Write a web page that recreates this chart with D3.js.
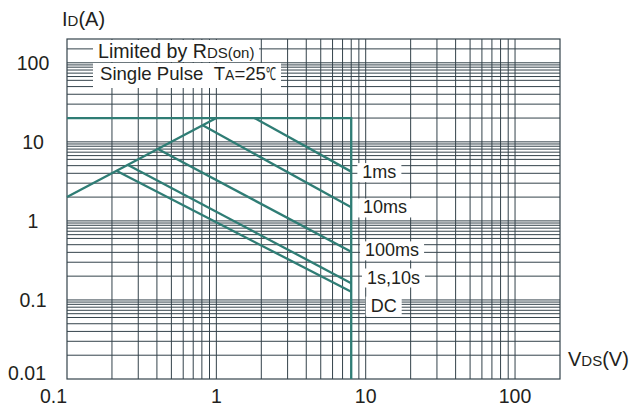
<!DOCTYPE html>
<html><head><meta charset="utf-8">
<script src="https://cdn.jsdelivr.net/npm/d3@7"></script>
<style>
html,body{margin:0;padding:0;background:#fff;}
svg{display:block;font-family:"Liberation Sans",Arial,sans-serif;}
</style></head>
<body>
<svg id="c" width="631" height="409"></svg>
<script>
// ---- data ----
const xDomain = [0.1, 200];
const yDomain = [0.01, 200];
const xTicks = [0.1, 1, 10, 100];
const xTickLabels = ["0.1", "1", "10", "100"];
const yTicks = [0.01, 0.1, 1, 10, 100];
const yTickLabels = ["0.01", "0.1", "1", "10", "100"];
const xGridMultipliers = [1, 2, 3, 4, 5, 6, 7, 8, 9];
const yGridMultipliers = [1, 2, 3, 4, 5, 6, 6.7, 7.4, 8.1, 8.8, 9.4];
const yGridExtra = [150];

// SOA boundary (package / VDS limit)
const boundary = [[0.1, 20], [8, 20], [8, 0.01]];
// RDS(on) limit line
const rdsLine = [[0.1, 2], [1, 20]];
// pulse curves
const curveNames = ["1ms", "10ms", "100ms", "1s,10s", "DC"];
const curveStart = [[1.8, 20], [0.81, 16.2], [0.406, 8.1], [0.256, 5.1], [0.214, 4.3]];
const curveEnd = [[8, 4.2], [8, 1.49], [8, 0.408], [8, 0.163], [8, 0.127]];
// curve label anchor points (VDS, ID)
const labelX = [9.5, 9.6, 9.9, 10.2, 10.8];
const labelY = [4.2, 1.5, 0.43, 0.195, 0.086];

// ---- drawing ----
const svg = d3.select("#c");
const L = 67, R = 560, T = 39, B = 379;
const x = d3.scaleLog().domain(xDomain).range([L, R]);
const y = d3.scaleLog().domain(yDomain).range([B, T]);

const gridColor = "#34434b";
const teal = "#2f7d75";
const textColor = "#231f20";
const g = svg.append("g");

// vertical grid
const xGrid = [];
for (let e = -1; e <= 2; e++) xGridMultipliers.forEach(m => {
  const v = m * Math.pow(10, e);
  if (v > xDomain[0] && v < xDomain[1]) xGrid.push(v);
});
g.selectAll("line.vx").data(xGrid).join("line")
  .attr("x1", d => x(d)).attr("x2", d => x(d))
  .attr("y1", T).attr("y2", B)
  .attr("stroke", gridColor).attr("stroke-width", 1);

// horizontal grid
const yGrid = [];
for (let e = -2; e <= 2; e++) yGridMultipliers.forEach(m => {
  const v = m * Math.pow(10, e);
  if (v > yDomain[0] && v < yDomain[1]) yGrid.push(v);
});
yGridExtra.forEach(v => yGrid.push(v));
g.selectAll("line.hy").data(yGrid).join("line")
  .attr("x1", L).attr("x2", R)
  .attr("y1", d => y(d)).attr("y2", d => y(d))
  .attr("stroke", gridColor).attr("stroke-width", 1);

// frame
g.append("rect").attr("x", L).attr("y", T).attr("width", R - L).attr("height", B - T)
  .attr("fill", "none").attr("stroke", gridColor).attr("stroke-width", 1.2);

// curves
const line = d3.line().x(d => x(d[0])).y(d => y(d[1]));
const cg = svg.append("g").attr("fill", "none").attr("stroke", teal)
  .attr("stroke-width", 2.3).attr("stroke-linejoin", "miter");
cg.append("path").attr("d", line(boundary));
cg.append("path").attr("d", line(rdsLine));
curveNames.forEach((n, i) => {
  cg.append("path").attr("d", line([curveStart[i], curveEnd[i]]));
});

// curve labels with white boxes
const lg = svg.append("g");
curveNames.forEach((n, i) => {
  const t = lg.append("text").attr("x", x(labelX[i])).attr("y", y(labelY[i]))
    .attr("dy", "0.36em").attr("font-size", 18).attr("fill", textColor).text(n);
  const bb = t.node().getBBox();
  lg.insert("rect", "text").attr("x", bb.x - 5).attr("y", bb.y + 1)
    .attr("width", bb.width + 10).attr("height", bb.height - 1).attr("fill", "#fff");
});

// legend boxes
function richText(parent, xx, yy, parts) {
  const t = parent.append("text").attr("x", xx).attr("y", yy).attr("fill", textColor);
  parts.forEach(p => {
    const s = t.append("tspan").attr("font-size", p[1]).text(p[0]);
    if (p[2]) s.attr("textLength", p[2]).attr("lengthAdjust", "spacingAndGlyphs");
  });
  return t;
}
const leg = svg.append("g");
leg.append("rect").attr("x", 93).attr("y", T + 1).attr("width", 166).attr("height", 22).attr("fill", "#fff");
leg.append("rect").attr("x", 93).attr("y", 63).attr("width", 188).attr("height", 25).attr("fill", "#fff");
richText(leg, 98, 57.5, [["Limited by R", 19.6], ["DS(on)", 15]]);
richText(leg, 100, 80, [["Single Pulse\u00a0\u00a0T", 18.6], ["A", 14], ["=25", 18.6], ["\u2103", 18, 10]]);

// tick labels
const tl = svg.append("g").attr("fill", textColor).attr("font-size", 19.5);
xTicks.forEach((v, i) => {
  tl.append("text").attr("x", x(v)).attr("y", 403)
    .attr("text-anchor", i === 0 ? "end" : "middle").text(xTickLabels[i]);
});
yTicks.forEach((v, i) => {
  if (v === yDomain[0]) {
    tl.append("text").attr("x", 46).attr("y", y(v) + 1).attr("text-anchor", "end").text(yTickLabels[i]);
  } else {
    tl.append("text").attr("x", 33).attr("y", y(v)).attr("dy", "0.36em")
      .attr("text-anchor", "middle").text(yTickLabels[i]);
  }
});

// axis titles
richText(svg, 62, 25.5, [["I", 20], ["D", 15], ["(A)", 20]]);
richText(svg, 568, 366, [["V", 20], ["DS", 15], ["(V)", 20]]);
</script>
</body></html>
